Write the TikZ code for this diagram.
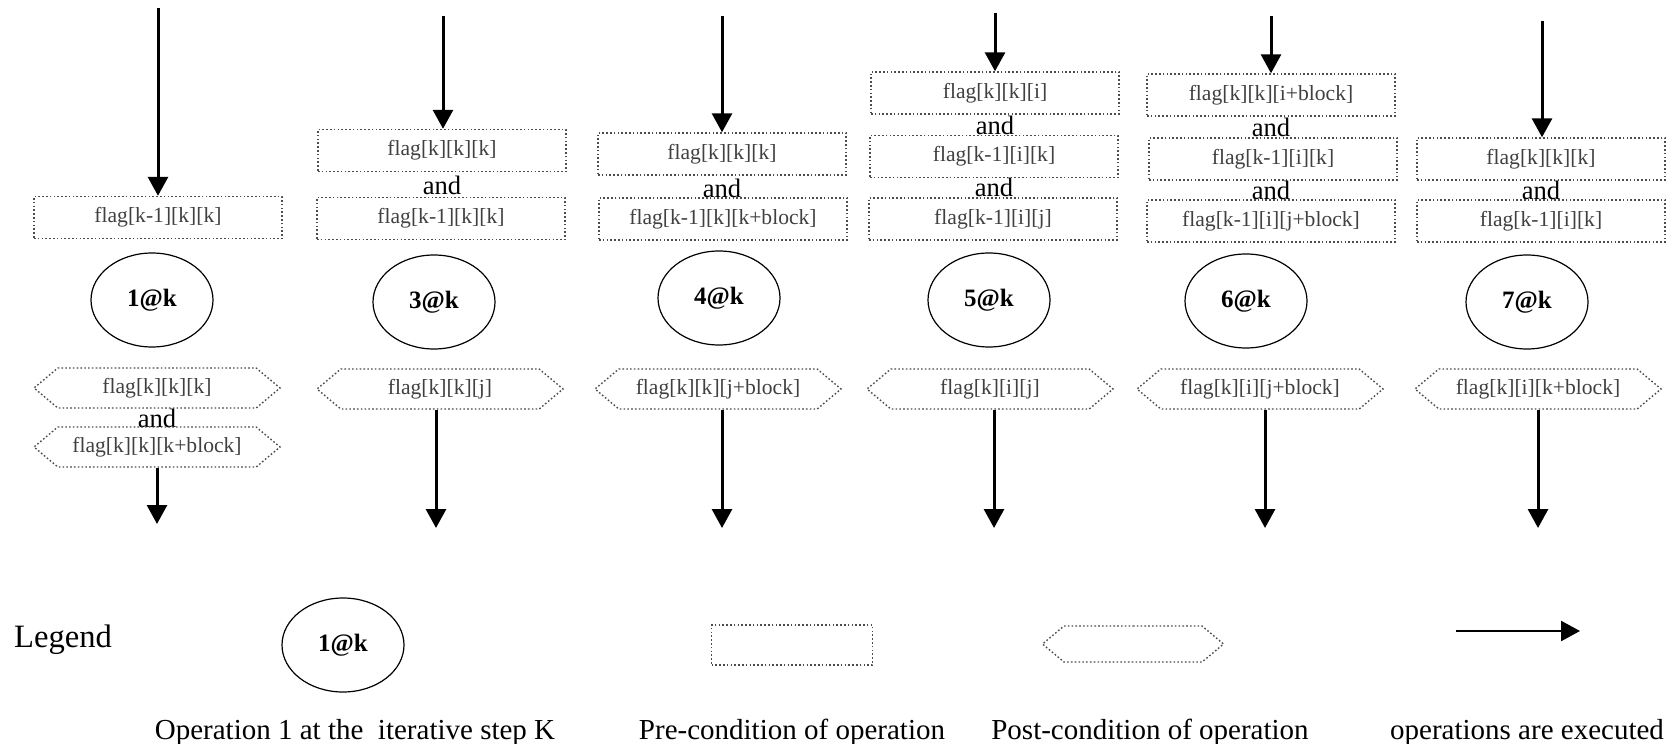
\documentclass[tikz,border=0pt]{standalone}
\usepackage{fontspec}
\setmainfont{Liberation Serif}
\usetikzlibrary{arrows.meta,shapes.geometric,shapes.symbols}

\tikzset{
  dotline/.style={draw=black!70, line width=0.7pt, dash pattern=on 0.8pt off 1.1pt},
  precond/.style={dotline, rectangle, minimum width=124pt, minimum height=21pt,
    inner sep=0pt, text=black!75, font=\fontsize{10.8}{12}\selectfont},
  postcond/.style={dotline, shape=signal, signal to=west and east,
    signal pointer angle=80, minimum width=123pt, minimum height=20pt,
    inner sep=0pt, text=black!75, font=\fontsize{10.8}{12}\selectfont},
  opnode/.style={ellipse, draw=black, line width=0.6pt, minimum width=61pt,
    minimum height=47pt, inner sep=0pt, font=\fontsize{12.5}{14}\selectfont\bfseries},
  joiner/.style={inner sep=0pt, font=\fontsize{13.3}{14}\selectfont},
  flow/.style={line width=1.5pt, -{Triangle[width=10pt,length=9.5pt]}},
  caption/.style={inner sep=0pt, anchor=base, font=\fontsize{14.5}{16}\selectfont}
}

\begin{document}
\begin{tikzpicture}[x=0.5pt,y=-0.5pt]
\useasboundingbox (0,0) rectangle (1673,743);

% ---------- operation 1 ----------
\node[precond] (r1a) at (158,217.5) {flag[k-1][k][k]};
\node[opnode] (c1) at (152,300) {1@k};
\node[postcond] (h1a) at (157,388) {flag[k][k][k]};
\node[joiner] (j1) at (157,418) {and};
\node[postcond] (h1b) at (157,447) {flag[k][k][k+block]};
\coordinate (s1) at (158,8);
\coordinate (e1) at (157,524);
\draw[flow] (s1) -- (s1 |- r1a.north);
\draw[flow] (e1 |- h1b.south) -- (e1);

% ---------- operation 3 ----------
\node[precond] (r2a) at (442,150.5) {flag[k][k][k]};
\node[joiner] (j2) at (442,185) {and};
\node[precond] (r2b) at (441,218.5) {flag[k-1][k][k]};
\node[opnode] (c2) at (434,302) {3@k};
\node[postcond] (h2) at (440,389) {flag[k][k][j]};
\coordinate (s2) at (443,16);
\coordinate (e2) at (436,528);
\draw[flow] (s2) -- (s2 |- r2a.north);
\draw[flow] (e2 |- h2.south) -- (e2);

% ---------- operation 4 ----------
\node[precond] (r3a) at (722,154) {flag[k][k][k]};
\node[joiner] (j3) at (722,188) {and};
\node[precond] (r3b) at (723,219) {flag[k-1][k][k+block]};
\node[opnode] (c3) at (719,298) {4@k};
\node[postcond] (h3) at (718,389) {flag[k][k][j+block]};
\coordinate (s3) at (722,16);
\coordinate (e3) at (722,528);
\draw[flow] (s3) -- (s3 |- r3a.north);
\draw[flow] (e3 |- h3.south) -- (e3);

% ---------- operation 5 ----------
\node[precond] (r4a) at (995,93) {flag[k][k][i]};
\node[joiner] (j4a) at (995,125) {and};
\node[precond] (r4b) at (994,156.5) {flag[k-1][i][k]};
\node[joiner] (j4b) at (994,187) {and};
\node[precond] (r4c) at (993,219) {flag[k-1][i][j]};
\node[opnode] (c4) at (989,300) {5@k};
\node[postcond] (h4) at (990,389) {flag[k][i][j]};
\coordinate (s4) at (995,13);
\coordinate (e4) at (994,528);
\draw[flow] (s4) -- (s4 |- r4a.north);
\draw[flow] (e4 |- h4.south) -- (e4);

% ---------- operation 6 ----------
\node[precond] (r5a) at (1271,95) {flag[k][k][i+block]};
\node[joiner] (j5a) at (1271,127) {and};
\node[precond] (r5b) at (1273,159) {flag[k-1][i][k]};
\node[joiner] (j5b) at (1271,190) {and};
\node[precond] (r5c) at (1271,221) {flag[k-1][i][j+block]};
\node[opnode] (c5) at (1246,301) {6@k};
\node[postcond] (h5) at (1260,389) {flag[k][i][j+block]};
\coordinate (s5) at (1271,16);
\coordinate (e5) at (1265,528);
\draw[flow] (s5) -- (s5 |- r5a.north);
\draw[flow] (e5 |- h5.south) -- (e5);

% ---------- operation 7 ----------
\node[precond] (r6a) at (1541,159) {flag[k][k][k]};
\node[joiner] (j6) at (1541,190) {and};
\node[precond] (r6b) at (1541,221) {flag[k-1][i][k]};
\node[opnode] (c6) at (1527,302) {7@k};
\node[postcond] (h6) at (1538,389) {flag[k][i][k+block]};
\coordinate (s6) at (1542,21);
\coordinate (e6) at (1538,528);
\draw[flow] (s6) -- (s6 |- r6a.north);
\draw[flow] (e6 |- h6.south) -- (e6);

% ---------- legend ----------
\node[inner sep=0pt, font=\fontsize{16.3}{18}\selectfont] (lg) at (63,640) {Legend};
\node[opnode] (lc) at (343,645) {1@k};
\node[precond, minimum width=80.5pt, minimum height=20pt] (lr) at (792,645) {};
\node[postcond, minimum width=90.5pt, minimum height=18pt] (lh) at (1133,644) {};
\coordinate (la) at (1456,631);
\coordinate (lb) at (1580,631);
\draw[flow, line width=1.2pt] (la) -- (lb);

\node[caption] (t1) at (355,739) {Operation 1 at the\ \ iterative step K};
\node[caption] (t2) at (792,739) {Pre-condition of operation};
\node[caption] (t3) at (1150,739) {Post-condition of operation};
\node[caption] (t4) at (1527,739) {operations are executed};
\end{tikzpicture}
\end{document}
